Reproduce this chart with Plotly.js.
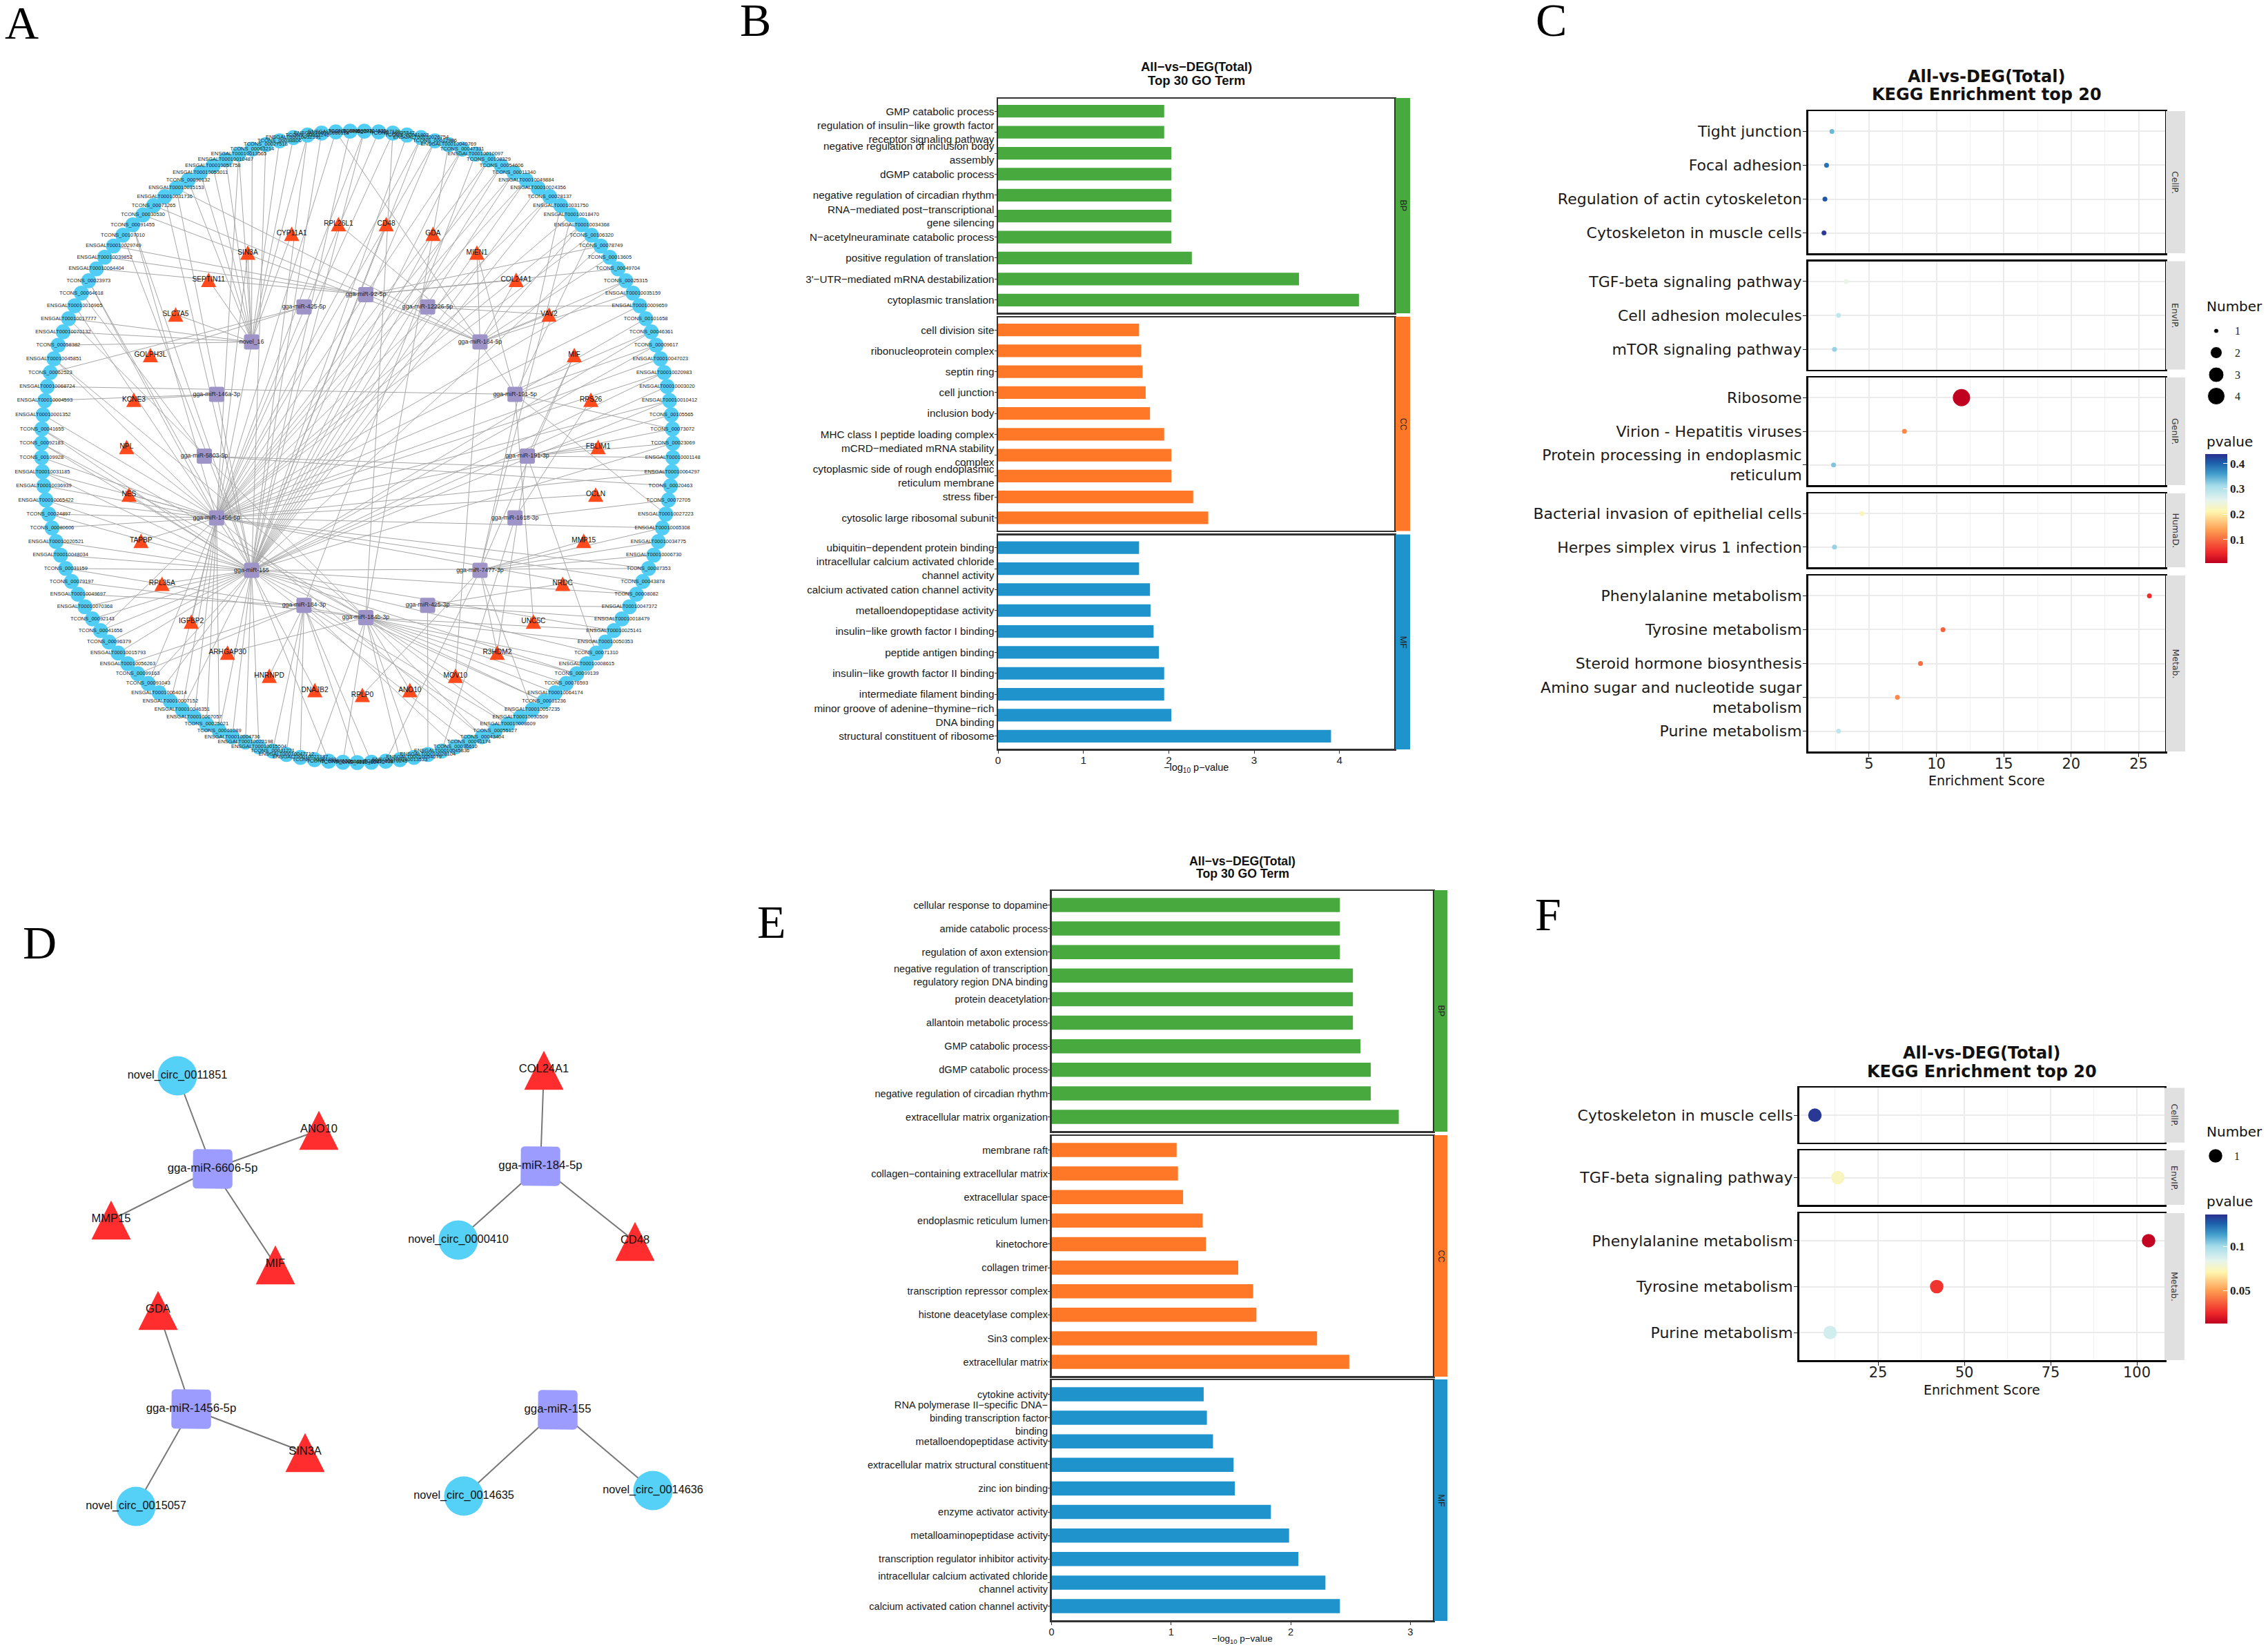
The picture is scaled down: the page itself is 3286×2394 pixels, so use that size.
<!DOCTYPE html>
<html><head><meta charset="utf-8">
<script src="https://cdn.plot.ly/plotly-3.0.1.min.js"></script>
<style>html,body{margin:0;padding:0;background:#fff}#p{width:3286px;height:2394px}</style>
</head><body><div id="p"></div>
<script>
// ---------- DATA: Panel A network ----------
const ringLabels=["TCONS_00104604","TCONS_00058413","TCONS_00098630","TCONS_00084293","ENSGALT00010021387","ENSGALT00010047712","TCONS_00031221","ENSGALT00010015504","ENSGALT00010022198","ENSGALT00010004736",
"TCONS_00061089","TCONS_00025021","ENSGALT00010067057","ENSGALT00010046351","ENSGALT00010007152","ENSGALT00010064014","TCONS_00091043","TCONS_00099163","ENSGALT00010056263","ENSGALT00010015793",
"TCONS_00096379","TCONS_00041656","TCONS_00092143","ENSGALT00010070368","ENSGALT00010049697","TCONS_00079197","TCONS_00031159","ENSGALT00010048034","ENSGALT00010020521","TCONS_00080606",
"TCONS_00024897","ENSGALT00010065422","ENSGALT00010036939","ENSGALT00010031185","TCONS_00109928","TCONS_00092183","TCONS_00041655","ENSGALT00010001352","ENSGALT00010004593","ENSGALT00010068724",
"TCONS_00062523","ENSGALT00010045851","TCONS_00058382","ENSGALT00010070132","ENSGALT00010017777","ENSGALT00010016965","TCONS_00064618","TCONS_00023973","ENSGALT00010064404","ENSGALT00010039852",
"ENSGALT00010029749","TCONS_00107010","TCONS_00091455","TCONS_00030530","TCONS_00071265","ENSGALT00010031736","ENSGALT00010035153","TCONS_00090132","ENSGALT00010053011","ENSGALT00010051758",
"ENSGALT00010010487","ENSGALT00010013565","TCONS_00063214","TCONS_00027518","TCONS_00038806","ENSGALT00010032391","TCONS_00052240","ENSGALT00010060118","ENSGALT00010044902","TCONS_00019377",
"TCONS_00104876","TCONS_00067120","TCONS_00035542","TCONS_00081903","ENSGALT00010026754","TCONS_00012986","ENSGALT00010040769","TCONS_00047331","ENSGALT00010010097","TCONS_00108329",
"TCONS_00054606","TCONS_00011340","ENSGALT00010049884","ENSGALT00010024356","TCONS_00028137","ENSGALT00010031750","ENSGALT00010018470","ENSGALT00010034368","TCONS_00106320","TCONS_00078749",
"TCONS_00013605","TCONS_00049704","TCONS_00025315","ENSGALT00010035159","ENSGALT00010009659","TCONS_00101658","TCONS_00046361","TCONS_00009617","ENSGALT00010047023","ENSGALT00010020983",
"ENSGALT00010003020","ENSGALT00010010412","TCONS_00105565","TCONS_00073072","TCONS_00023069","ENSGALT00010001148","ENSGALT00010064297","TCONS_00020463","TCONS_00072705","ENSGALT00010027223",
"ENSGALT00010065308","ENSGALT00010034775","ENSGALT00010006730","TCONS_00087353","TCONS_00043878","TCONS_00008082","ENSGALT00010047372","ENSGALT00010018479","ENSGALT00010025141","ENSGALT00010050353",
"TCONS_00071310","ENSGALT00010008615","TCONS_00099139","TCONS_00076593","ENSGALT00010064174","TCONS_00081236","ENSGALT00010057235","ENSGALT00010030509","ENSGALT00010008609","TCONS_00055127",
"TCONS_00043404","TCONS_00091174","TCONS_00036610","ENSGALT00010045836","ENSGALT00010028104","ENSGALT00010054079","ENSGALT00010013523","TCONS_00070245","TCONS_00016438"];
const ringToMir=[9,8,10,8,9,9,9,10,10,10,
11,11,11,11,11,10,11,9,9,10,
10,10,10,10,9,8,10,10,10,11,
11,11,11,11,11,10,10,11,13,3,
15,11,14,14,14,10,12,11,0,0,
0,10,11,2,2,10,2,14,14,14,
14,11,14,10,14,11,14,10,3,10,
11,11,8,10,11,11,8,11,9,10,
11,11,11,10,11,6,6,2,3,0,
2,0,2,2,1,3,10,3,11,11,
10,10,4,3,4,4,12,12,5,3,
6,6,6,11,11,10,7,7,8,8,
4,8,8,8,8,8,6,8,8,9,
8,10,9,5,7,8,8,6,9];
const extraRing=[70,72,74,75,77,79,80,81,82,84,86,87,88,89,92,94,96,97,99,101,103,104,106,110,113,115,118,120,122,125,128,130,36,35,33,31,30,26,21,16,13,10,61,56,52,47,44,41,66,68];
const extraMir=[10,11,10,10,10,11,10,10,10,10,11,11,11,10,11,11,11,10,10,11,11,10,11,11,10,11,10,10,10,10,10,11,8,8,10,10,10,8,11,10,10,10,14,10,10,10,8,8,10,11];
const mirLabels=["gga-miR-92-5p","gga-miR-12226-5p","gga-miR-184-5p","gga-miR-191-5p","gga-miR-191-3p","gga-miR-1618-3p","gga-miR-7477-3p","gga-miR-425-3p","gga-miR-184b-3p","gga-miR-184-3p","gga-miR-155","gga-miR-1456-5p","gga-miR-5803-5p","gga-miR-146a-3p","novel_16","gga-miR-425-5p"];
const geneLabels=["RPLP0","DNAJB2","HNRNPD","ARHGAP30","IGFBP2","RPL35A","TAPBP","NES","NPL","KCNE3","GOLPH3L","SLC7A5","SEPTIN11","SIN3A","CYP11A1","RPL26L1","CD48","GDA","MIEN1","COL24A1","VAV2","MIF","RPS26","FBLIM1","OCLN","MMP15","NRDC","UNC5C","R3HDM2","MOV10","ANO10"];
const geneEdgeGene=[0,1,2,3,4,5,6,7,7,8,9,10,11,12,13,13,14,15,16,17,18,18,19,19,20,20,21,21,22,23,24,25,26,27,28,28,29,30];
const geneEdgeMir =[6,10,9,8,11,10,11,11,10,11,13,15,14,14,14,11,14,2,10,10,2,3,2,0,1,2,4,6,5,4,11,6,7,3,6,4,2,8];

// ---------- DATA: Panel D network ----------
const dMirNames=["gga-miR-6606-5p","gga-miR-184-5p","gga-miR-1456-5p","gga-miR-155"];
const dMirX=[308,783,277,808], dMirY=[1694,1690,2042,2043];
const dCircNames=["novel_circ_0011851","novel_circ_0000410","novel_circ_0015057","novel_circ_0014635","novel_circ_0014636"];
const dCircX=[257,664,197,672,946], dCircY=[1559,1797,2183,2168,2160], dCircMir=[0,1,2,3,3];
const dGeneNames=["ANO10","MMP15","MIF","COL24A1","CD48","GDA","SIN3A"];
const dGeneX=[462,161,399,788,920,229,442], dGeneY=[1638,1768,1833,1551,1799,1899,2105], dGeneMir=[0,0,0,1,1,2,2];

// ---------- DATA: Panel B ----------
const bBPTerms=["GMP catabolic process","regulation of insulin−like growth factor<br>receptor signaling pathway","negative regulation of inclusion body<br>assembly","dGMP catabolic process","negative regulation of circadian rhythm","RNA−mediated post−transcriptional<br>gene silencing","N−acetylneuraminate catabolic process","positive regulation of translation","3'−UTR−mediated mRNA destabilization","cytoplasmic translation"];
const bBPVals=[1.946,1.946,2.03,2.03,2.03,2.03,2.03,2.27,3.525,4.227];
const bCCTerms=["cell division site","ribonucleoprotein complex","septin ring","cell junction","inclusion body","MHC class I peptide loading complex","mCRD−mediated mRNA stability<br>complex","cytoplasmic side of rough endoplasmic<br>reticulum membrane","stress fiber","cytosolic large ribosomal subunit"];
const bCCVals=[1.652,1.677,1.693,1.729,1.78,1.946,2.03,2.03,2.286,2.462];
const bMFTerms=["ubiquitin−dependent protein binding","intracellular calcium activated chloride<br>channel activity","calcium activated cation channel activity","metalloendopeptidase activity","insulin−like growth factor I binding","peptide antigen binding","insulin−like growth factor II binding","intermediate filament binding","minor groove of adenine−thymine−rich<br>DNA binding","structural constituent of ribosome"];
const bMFVals=[1.652,1.652,1.78,1.786,1.822,1.884,1.946,1.946,2.03,3.9];

// ---------- DATA: Panel E ----------
const eBPTerms=["cellular response to dopamine","amide catabolic process","regulation of axon extension","negative regulation of transcription<br>regulatory region DNA binding","protein deacetylation","allantoin metabolic process","GMP catabolic process","dGMP catabolic process","negative regulation of circadian rhythm","extracellular matrix organization"];
const eBPVals=[2.411,2.411,2.411,2.52,2.52,2.52,2.583,2.669,2.669,2.903];
const eCCTerms=["membrane raft","collagen−containing extracellular matrix","extracellular space","endoplasmic reticulum lumen","kinetochore","collagen trimer","transcription repressor complex","histone deacetylase complex","Sin3 complex","extracellular matrix"];
const eCCVals=[1.046,1.057,1.10,1.264,1.291,1.561,1.686,1.713,2.22,2.489];
const eMFTerms=["cytokine activity","RNA polymerase II−specific DNA−<br>binding transcription factor<br>binding","metalloendopeptidase activity","extracellular matrix structural constituent","zinc ion binding","enzyme activator activity","metalloaminopeptidase activity","transcription regulator inhibitor activity","intracellular calcium activated chloride<br>channel activity","calcium activated cation channel activity"];
const eMFVals=[1.272,1.299,1.35,1.522,1.533,1.834,1.986,2.064,2.29,2.411];

// ---------- DATA: Panel C ----------
const cCellTerms=["Tight junction","Focal adhesion","Regulation of actin cytoskeleton","Cytoskeleton in muscle cells"];
const cCellScore=[2.25,1.85,1.73,1.66], cCellP=[0.34,0.39,0.41,0.43], cCellN=[1,1,1,1];
const cEnvTerms=["TGF-beta signaling pathway","Cell adhesion molecules","mTOR signaling pathway"];
const cEnvScore=[3.29,2.74,2.44], cEnvP=[0.25,0.29,0.32], cEnvN=[1,1,1];
const cGenTerms=["Ribosome","Virion - Hepatitis viruses","Protein processing in endoplasmic<br>reticulum"];
const cGenScore=[11.86,7.63,2.37], cGenP=[0.008,0.12,0.33], cGenN=[4,1,1];
const cHumTerms=["Bacterial invasion of epithelial cells","Herpes simplex virus 1 infection"];
const cHumScore=[4.48,2.44], cHumP=[0.22,0.32], cHumN=[1,1];
const cMetTerms=["Phenylalanine metabolism","Tyrosine metabolism","Steroid hormone biosynthesis","Amino sugar and nucleotide sugar<br>metabolism","Purine metabolism"];
const cMetScore=[25.8,10.49,8.82,7.11,2.74], cMetP=[0.05,0.09,0.10,0.12,0.29], cMetN=[1,1,1,1,1];
const cStrips=["CellP.","EnvIP.","GenIP.","HumaD.","Metab."];
const cLegendN=[1,2,3,4];

// ---------- DATA: Panel F ----------
const fCellTerms=["Cytoskeleton in muscle cells"], fCellScore=[6.7], fCellP=[0.134];
const fEnvTerms=["TGF-beta signaling pathway"], fEnvScore=[13.35], fEnvP=[0.074];
const fMetTerms=["Phenylalanine metabolism","Tyrosine metabolism","Purine metabolism"], fMetScore=[103.4,42,11.1], fMetP=[0.014,0.027,0.089];
const fStrips=["CellP.","EnvIP.","Metab."];

// ---------- LAYOUT ----------
const W=3286,H=2394;
const SANS="Liberation Sans, Arial, sans-serif", DJ="DejaVu Sans, sans-serif", SERIF="Liberation Serif, serif";
const layout={width:W,height:H,margin:{l:0,r:0,t:0,b:0,pad:0},paper_bgcolor:'#fff',plot_bgcolor:'rgba(0,0,0,0)',showlegend:false,hovermode:false,
  xaxis:{domain:[0,1],range:[0,W],visible:false,fixedrange:true},
  yaxis:{domain:[0,1],range:[H,0],visible:false,fixedrange:true},
  annotations:[],shapes:[]};
const traces=[];
let axN=2;
function ann(x,y,text,size,font,o){layout.annotations.push(Object.assign({xref:'x',yref:'y',x,y,text,showarrow:false,xanchor:'center',yanchor:'middle',font:{family:font,size,color:(o&&o.color)||'#111'}},o||{}));}
function rect(l,t,r,b,color){layout.shapes.push({type:'rect',xref:'x',yref:'y',x0:l,x1:r,y0:t,y1:b,fillcolor:color,line:{width:0}});}
function sub(l,t,r,b,xo,yo){const n=axN++;
  layout['xaxis'+n]=Object.assign({domain:[l/W,r/W],anchor:'y'+n,zeroline:false,fixedrange:true},xo);
  layout['yaxis'+n]=Object.assign({domain:[1-b/H,1-t/H],anchor:'x'+n,zeroline:false,fixedrange:true},yo);
  return ['x'+n,'y'+n];}
function catY(terms,o){return Object.assign({type:'category',categoryorder:'array',categoryarray:terms,range:[terms.length-1+0.6,-0.6],tickmode:'array',tickvals:terms,ticktext:terms,ticks:'outside',showline:true,mirror:true},o);}

// Panels B, E
function goPanel(L,R,strL,strR,xmax,ticks,rows,fs,bw,so){
  rows.forEach((row,k)=>{
    const last=k===rows.length-1;
    const xo={range:[0,xmax],showgrid:false,showline:true,mirror:true,linecolor:'#333',linewidth:bw,ticks:last?'outside':'',ticklen:4,tickcolor:'#333',tickvals:last?ticks:[],showticklabels:last,ticklabelstandoff:so,tickfont:{family:SANS,size:fs,color:'#222'}};
    const yo=catY(row.terms,{showgrid:false,linecolor:'#333',linewidth:bw,ticklen:3,tickcolor:'#333',tickfont:{family:SANS,size:fs,color:'#1a1a1a'},ticklabelstandoff:-3});
    const [xa,ya]=sub(L,row.t,R,row.b,xo,yo);
    traces.push({type:'bar',orientation:'h',x:row.vals,y:row.terms,width:0.6,xaxis:xa,yaxis:ya,marker:{color:row.color,line:{width:0}},hoverinfo:'skip'});
    rect(strL,row.t-1,strR,row.b+1,row.color);
    ann((strL+strR)/2,(row.t+row.b)/2,row.strip,12.5,SANS,{textangle:90,color:'#222'});
  });
}
const GREEN='#48A93E',ORANGE='#FF7828',BLUE='#1F93CC';
goPanel(1446,2020,2022,2043,4.64,[0,1,2,3,4],[
 {terms:bBPTerms,vals:bBPVals,t:143,b:453,color:GREEN,strip:'BP'},
 {terms:bCCTerms,vals:bCCVals,t:460,b:768.5,color:ORANGE,strip:'CC'},
 {terms:bMFTerms,vals:bMFVals,t:775.5,b:1085,color:BLUE,strip:'MF'}],15.3,2.5,-3);
goPanel(1523.5,2076,2078,2097,3.188,[0,1,2,3],[
 {terms:eBPTerms,vals:eBPVals,t:1291,b:1639,color:GREEN,strip:'BP'},
 {terms:eCCTerms,vals:eCCVals,t:1646,b:1994,color:ORANGE,strip:'CC'},
 {terms:eMFTerms,vals:eMFVals,t:2000,b:2348,color:BLUE,strip:'MF'}],14.6,2.5,-2);
ann(1733,96.5,'<b>All−vs−DEG(Total)</b>',18.5,SANS);
ann(1733,116,'<b>Top 30 GO Term</b>',18.5,SANS);
ann(1733,1113,'−log<sub>10</sub> p−value',14.5,SANS);
ann(1800,1248,'<b>All−vs−DEG(Total)</b>',17.7,SANS);
ann(1800,1266,'<b>Top 30 GO Term</b>',17.7,SANS);
ann(1800,2375,'−log<sub>10</sub> p−value',13.5,SANS);

// Panels C, F
const SCALE=[[0,'#BE0020'],[0.1,'#F02A2A'],[0.3,'#FD9C50'],[0.47,'#FFF6AE'],[0.58,'#E4F4EE'],[0.71,'#A5DCEA'],[0.82,'#3F9CCB'],[0.92,'#1C5FAA'],[1,'#2B2F90']];
function cbar(x,top,len,vals,size){return {x:x/W,xanchor:'left',xpad:0,y:1-top/H,yanchor:'top',ypad:0,len,lenmode:'pixels',thickness:32,thicknessmode:'pixels',outlinewidth:0,borderwidth:0,tickmode:'array',tickvals:vals,ticktext:vals.map(String),ticks:'inside',ticklen:6,tickcolor:'#fff',tickwidth:1,tickfont:{family:SERIF,size,color:'#222',weight:'bold'}};}
layout.coloraxis={cmin:0.006,cmax:0.438,colorscale:SCALE,colorbar:cbar(3195,658,158,[0.1,0.2,0.3,0.4],17)};
layout.coloraxis2={cmin:0.0125,cmax:0.136,colorscale:SCALE,colorbar:cbar(3195,1760,158,[0.05,0.1],17)};
function dotPanel(L,R,strL,strR,xr,major,minor,rows,sizeFn,ca){
  rows.forEach((row,k)=>{
    const last=k===rows.length-1;
    const xo={range:xr,showgrid:true,gridcolor:'#EBEBEB',gridwidth:2,showline:true,mirror:true,linecolor:'#000',linewidth:2.5,tickmode:'array',tickvals:major,ticks:last?'outside':'',ticklen:5,tickcolor:'#222',showticklabels:last,ticklabelstandoff:-8,tickfont:{family:DJ,size:21,color:'#222'},minor:{tickmode:'array',tickvals:minor,showgrid:true,gridcolor:'#F1F1F1',gridwidth:1,ticks:''}};
    const yo=catY(row.terms,{showgrid:true,gridcolor:'#EBEBEB',gridwidth:2,linecolor:'#000',linewidth:2.5,ticklen:5,tickcolor:'#222',tickfont:{family:DJ,size:22,color:'#1a1a1a'},ticklabelstandoff:-3});
    const [xa,ya]=sub(L,row.t,R,row.b,xo,yo);
    traces.push({type:'scatter',mode:'markers',x:row.score,y:row.terms,xaxis:xa,yaxis:ya,cliponaxis:false,hoverinfo:'skip',marker:{size:sizeFn(row),opacity:1,color:row.p,coloraxis:ca,line:{width:0}}});
    rect(strL,row.t,strR,row.b,'#E0E0E0');
    ann((strL+strR)/2,(row.t+row.b)/2,row.strip,12.5,DJ,{textangle:90,color:'#333'});
  });
}
const numToPx=n=>({1:7,2:17,3:22,4:25})[n];
dotPanel(2619.5,3137,3138,3166,[0.473,26.97],[5,10,15,20,25],[2.5,7.5,12.5,17.5,22.5],[
 {terms:cCellTerms,score:cCellScore,p:cCellP,n:cCellN,t:161,b:367,strip:cStrips[0]},
 {terms:cEnvTerms,score:cEnvScore,p:cEnvP,n:cEnvN,t:378.5,b:535.6,strip:cStrips[1]},
 {terms:cGenTerms,score:cGenScore,p:cGenP,n:cGenN,t:547,b:703,strip:cStrips[2]},
 {terms:cHumTerms,score:cHumScore,p:cHumP,n:cHumN,t:715,b:822,strip:cStrips[3]},
 {terms:cMetTerms,score:cMetScore,p:cMetP,n:cMetN,t:834,b:1089,strip:cStrips[4]}],r=>r.n.map(numToPx),'coloraxis');
dotPanel(2606.5,3136,3136,3165,[2.1,108],[25,50,75,100],[12.5,37.5,62.5,87.5],[
 {terms:fCellTerms,score:fCellScore,p:fCellP,t:1576.4,b:1655.7,strip:fStrips[0]},
 {terms:fEnvTerms,score:fEnvScore,p:fEnvP,t:1667,b:1746,strip:fStrips[1]},
 {terms:fMetTerms,score:fMetScore,p:fMetP,t:1758,b:1971,strip:fStrips[2]}],r=>r.terms.map(()=>19.5),'coloraxis2');
ann(2878,111,'<b>All-vs-DEG(Total)</b>',24,DJ);
ann(2878,137,'<b>KEGG Enrichment top 20</b>',24,DJ);
ann(2878,1131,'Enrichment Score',19,DJ);
ann(2871,1526,'<b>All-vs-DEG(Total)</b>',24,DJ);
ann(2871,1553,'<b>KEGG Enrichment top 20</b>',24,DJ);
ann(2871,2014,'Enrichment Score',19,DJ);
ann(3195,444,'Number',20,DJ,{xanchor:'left'});
ann(3195,640,'pvalue',20,DJ,{xanchor:'left'});
ann(3195,1640,'Number',20,DJ,{xanchor:'left'});
ann(3195,1741,'pvalue',20,DJ,{xanchor:'left'});
// size legends
const cLegY=[479.5,511,543,574];
traces.push({type:'scatter',mode:'markers',x:cLegendN.map(()=>3211),y:cLegY,marker:{color:'#000',opacity:1,size:cLegendN.map(numToPx)},hoverinfo:'skip',xaxis:'x',yaxis:'y',cliponaxis:false});
cLegendN.forEach((n,i)=>ann(3242,cLegY[i],String(n),16,SERIF,{color:'#222'}));
traces.push({type:'scatter',mode:'markers',x:[3210],y:[1675],marker:{color:'#000',size:19.5},hoverinfo:'skip',xaxis:'x',yaxis:'y'});
ann(3241,1675,'1',16,SERIF,{color:'#222'});

// Network helpers
function tri(xs,ys,w,h){const X=[],Y=[];xs.forEach((x,i)=>{X.push(x-w/2,x+w/2,x,x-w/2,null);const y=ys[i];Y.push(y+h*0.5,y+h*0.5,y-h*0.5,y+h*0.5,null);});return {x:X,y:Y};}
function rrect(xs,ys,s,r){const X=[],Y=[];const steps=4;xs.forEach((x,i)=>{const y=ys[i],h=s/2;
  [[h-r,h-r,0],[-(h-r),h-r,90],[-(h-r),-(h-r),180],[h-r,-(h-r),270]].forEach(c=>{for(let k=0;k<=steps;k++){const a=(c[2]+k*90/steps)*Math.PI/180;X.push(x+c[0]+r*Math.cos(a));Y.push(y+c[1]+r*Math.sin(a));}});
  X.push(null);Y.push(null);});return {x:X,y:Y};}
function poly(p,color){traces.push({type:'scatter',mode:'lines',x:p.x,y:p.y,fill:'toself',fillcolor:color,line:{width:0,color},hoverinfo:'skip',xaxis:'x',yaxis:'y'});}
function segs(ax,ay,bx,by,color,w){const X=[],Y=[];ax.forEach((v,i)=>{X.push(v,bx[i],null);Y.push(ay[i],by[i],null);});traces.push({type:'scatter',mode:'lines',x:X,y:Y,line:{color,width:w},hoverinfo:'skip',xaxis:'x',yaxis:'y'});}
function labels(xs,ys,text,size,color){traces.push({type:'scatter',mode:'text',x:xs,y:ys,text,textposition:'middle center',textfont:{family:SANS,size,color:color||'#111'},hoverinfo:'skip',xaxis:'x',yaxis:'y',cliponaxis:false});}

// Panel A: circular layouts
const ringN=ringLabels.length,ringX=[],ringY=[];
ringLabels.forEach((_,i)=>{const a=Math.PI/2+i*2*Math.PI/ringN;ringX.push(517.5+457.5*Math.cos(a));ringY.push(647.5+457.5*Math.sin(a));});
const mirX=[],mirY=[];
mirLabels.forEach((_,i)=>{const a=-Math.PI/2+i*2*Math.PI/mirLabels.length;mirX.push(530+234*Math.cos(a));mirY.push(661+234*Math.sin(a));});
const geneX=[],geneY=[];
geneLabels.forEach((_,i)=>{const a=Math.PI/2+i*2*Math.PI/geneLabels.length;geneX.push(525+342*Math.cos(a));geneY.push(665+342*Math.sin(a));});
const EDGE='#A6A6A6';
segs(ringX,ringY,ringToMir.map(m=>mirX[m]),ringToMir.map(m=>mirY[m]),EDGE,1);
segs(extraRing.map(i=>ringX[i]),extraRing.map(i=>ringY[i]),extraMir.map(m=>mirX[m]),extraMir.map(m=>mirY[m]),EDGE,1);
segs(geneEdgeGene.map(g=>geneX[g]),geneEdgeGene.map(g=>geneY[g]),geneEdgeMir.map(m=>mirX[m]),geneEdgeMir.map(m=>mirY[m]),EDGE,1);
traces.push({type:'scatter',mode:'markers',x:ringX,y:ringY,marker:{color:'#52CEF6',size:21.7,line:{width:0}},hoverinfo:'skip',xaxis:'x',yaxis:'y'});
poly(rrect(mirX,mirY,22,2.5),'#9E94C8');
poly(tri(geneX,geneY,22,21),'#FF4A1E');
labels(ringX,ringY,ringLabels,7.5,'#222');
labels(mirX,mirY,mirLabels,8.8,'#222');
labels(geneX,geneY,geneLabels,10.2,'#111');

// Panel D
const EDGED='#777';
segs(dCircX,dCircY,dCircMir.map(m=>dMirX[m]),dCircMir.map(m=>dMirY[m]),EDGED,2);
segs(dGeneX,dGeneY,dGeneMir.map(m=>dMirX[m]),dGeneMir.map(m=>dMirY[m]),EDGED,2);
traces.push({type:'scatter',mode:'markers',x:dCircX,y:dCircY,marker:{color:'#55D0F7',size:57,line:{width:0}},hoverinfo:'skip',xaxis:'x',yaxis:'y'});
poly(rrect(dMirX,dMirY,57.5,6),'#9C9CFF');
poly(tri(dGeneX,dGeneY,57,56.5),'#FF2D2D');
labels(dMirX,dMirY,dMirNames,16.8,'#111');
labels(dCircX,dCircY,dCircNames,16.3,'#111');
labels(dGeneX,dGeneY.map(y=>y-1),dGeneNames,16.5,'#111');

// Panel letters
[['A',31,33],['B',1094,29],['C',2247,29],['D',57,1366],['E',1118,1336],['F',2243,1325]].forEach(l=>ann(l[1],l[2],l[0],68,SERIF,{color:'#000'}));

Plotly.newPlot('p',traces,layout,{staticPlot:true,displayModeBar:false});
</script></body></html>
